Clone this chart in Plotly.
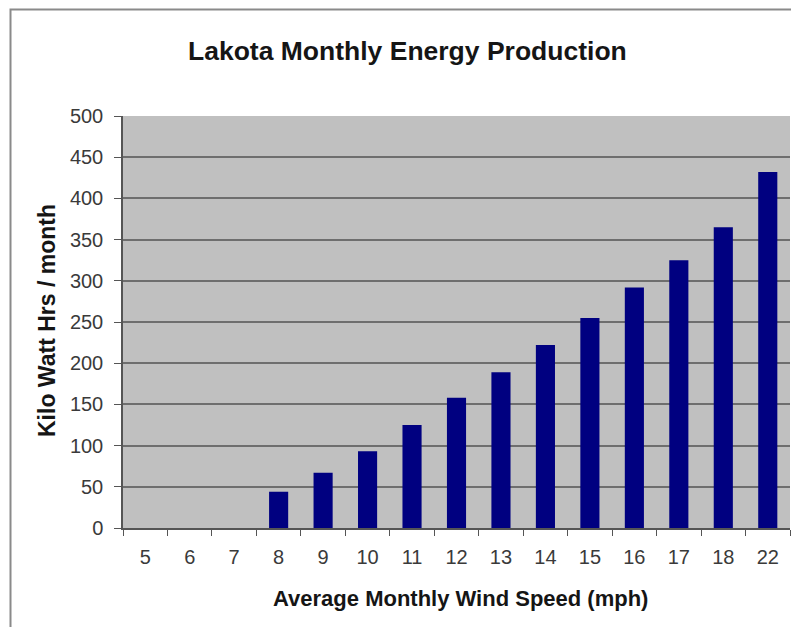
import plotly.graph_objects as go

categories = ["5", "6", "7", "8", "9", "10", "11", "12", "13", "14", "15", "16", "17", "18", "22"]
kwh = [0, 0, 0, 44, 67, 93, 125, 158, 189, 222, 255, 292, 325, 365, 432]
y_ticks = [0, 50, 100, 150, 200, 250, 300, 350, 400, 450, 500]

# page body has an 8px default margin, so the figure is shifted by 8px
OFF = 8
W, H = 799 - OFF, 627 - OFF
# plot area in page pixels: x 123..790, y 116..528
L, R, T, B = 123 - OFF, 799 - 790, 116 - OFF, 627 - 528
pw, ph = W - L - R, H - T - B

def px_x(x):
    return (x - OFF - L) / pw

def px_y(y):
    return (H - B - (y - OFF)) / ph

fig = go.Figure()
fig.add_trace(go.Bar(x=categories, y=kwh, marker=dict(color="#000080", line=dict(width=0)),
                     width=0.43))

font_family = "Liberation Sans, Arial, sans-serif"

fig.update_layout(
    width=W, height=H,
    margin=dict(l=L, r=R, t=T, b=B),
    paper_bgcolor="white",
    plot_bgcolor="#c0c0c0",
    showlegend=False,
    font=dict(family=font_family, color="#333333", size=20),
    xaxis=dict(type="category", tickmode="array", tickvals=categories, ticktext=categories,
               showgrid=False, showline=True, linecolor="#555555", linewidth=1.5,
               ticks="outside", tickson="boundaries", ticklen=6, tickcolor="#555555",
               ticklabelstandoff=10,
               tickfont=dict(size=20, color="#3a3a3a"), range=[-0.5, 14.5]),
    yaxis=dict(range=[0, 500], tickmode="array", tickvals=y_ticks,
               showgrid=True, gridcolor="#6e6e6e", gridwidth=1.5,
               showline=True, linecolor="#555555", linewidth=1.5,
               ticks="outside", ticklen=7, tickcolor="#555555",
               ticklabelstandoff=7,
               tickfont=dict(size=20, color="#3a3a3a"), zeroline=False),
    annotations=[
        dict(text="<b>Lakota Monthly Energy Production</b>", x=px_x(407), y=px_y(51),
             xref="paper", yref="paper", showarrow=False, xanchor="center", yanchor="middle",
             font=dict(size=26.5, color="#151515", family=font_family)),
        dict(text="<b>Kilo Watt Hrs / month</b>", x=px_x(47), y=px_y(321),
             xref="paper", yref="paper", showarrow=False, xanchor="center", yanchor="middle",
             textangle=-90, font=dict(size=23, color="#151515", family=font_family)),
        dict(text="<b>Average Monthly Wind Speed (mph)</b>", x=px_x(460), y=px_y(598),
             xref="paper", yref="paper", showarrow=False, xanchor="center", yanchor="middle",
             font=dict(size=22, color="#151515", family=font_family)),
    ],
    shapes=[
        dict(type="rect", xref="paper", yref="paper",
             x0=px_x(10.5), x1=px_x(797.5), y0=px_y(660), y1=px_y(9.5),
             line=dict(color="#8a8a8a", width=2), layer="below"),
    ],
)

fig.write_html("out.html")
